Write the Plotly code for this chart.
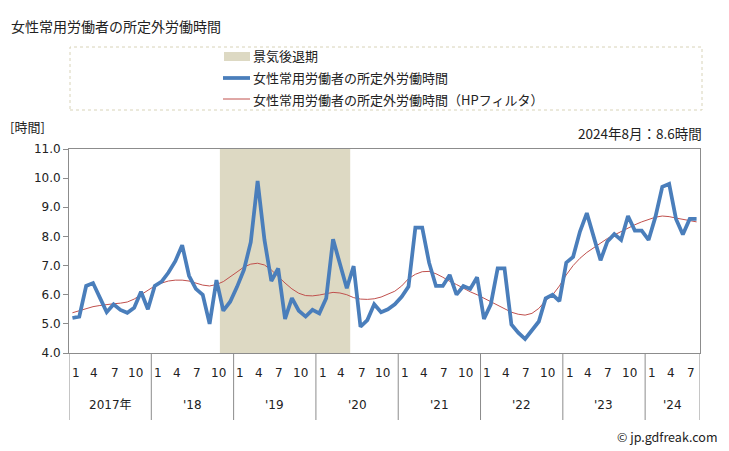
import plotly.graph_objects as go

# ---- data ----
months_per_year = 12
year_labels = ["2017年", "'18", "'19", "'20", "'21", "'22", "'23", "'24"]
month_tick_labels = ["1", "4", "7", "10"]
n_months = 92  # 2017-01 .. 2024-08

overtime = [
    5.2, 5.25, 6.3, 6.4, 5.9, 5.4, 5.67, 5.48, 5.38, 5.55, 6.1, 5.5,
    6.3, 6.45, 6.76, 7.15, 7.7, 6.65, 6.2, 6.0, 5.0, 6.5, 5.45, 5.76,
    6.27, 6.85, 7.8, 9.9, 7.88, 6.47, 6.9, 5.17, 5.88, 5.45, 5.25, 5.48,
    5.36, 5.88, 7.9, 7.02, 6.22, 6.98, 4.9, 5.13, 5.67, 5.4, 5.5, 5.67,
    5.93, 6.28, 8.3, 8.3, 7.1, 6.3, 6.3, 6.68, 6.0, 6.3, 6.2, 6.6,
    5.17, 5.67, 6.9, 6.9, 4.98, 4.7, 4.48, 4.78, 5.08, 5.88, 6.0, 5.78,
    7.1, 7.3, 8.17, 8.8, 8.0, 7.18, 7.83, 8.08, 7.88, 8.7, 8.2, 8.2,
    7.88, 8.67, 9.7, 9.8, 8.6, 8.07, 8.6, 8.6,
]
hp_trend = [
    5.38, 5.45, 5.53, 5.59, 5.63, 5.67, 5.69, 5.71, 5.75, 5.85, 6.0, 6.15,
    6.3, 6.4, 6.47, 6.5, 6.5, 6.47, 6.4, 6.33, 6.3, 6.35, 6.45, 6.6,
    6.78, 6.95, 7.05, 7.08, 7.02, 6.85, 6.62, 6.4, 6.2, 6.05, 5.97, 5.96,
    5.99, 6.04, 6.08, 6.06, 6.0, 5.9, 5.85, 5.84, 5.86, 5.92, 6.02, 6.12,
    6.3, 6.55, 6.7, 6.79, 6.8, 6.72, 6.6, 6.46, 6.35, 6.22, 6.1, 6.0,
    5.88, 5.74, 5.62, 5.5, 5.4, 5.33, 5.3, 5.36, 5.53, 5.8, 5.99, 6.3,
    6.68, 7.0, 7.25, 7.45, 7.62, 7.78, 7.93, 8.05, 8.17, 8.28, 8.4, 8.5,
    8.58, 8.66, 8.7, 8.68, 8.63, 8.58, 8.55, 8.5,
]
recession_start = 22  # 2018-11
recession_end = 40    # 2020-05
latest_note = "2024年8月：8.6時間"

title = "女性常用労働者の所定外労働時間"
name_recession = "景気後退期"
name_series = "女性常用労働者の所定外労働時間"
name_hp = "女性常用労働者の所定外労働時間（HPフィルタ）"

FONT = "Noto Sans CJK JP, Meiryo, sans-serif"
NUMFONT = "DejaVu Sans, Noto Sans CJK JP, sans-serif"
BLUE = "#4A7EBB"
RED = "#C0504D"
SHADE = "#DDD9C3"
AXIS = "#8C8C8C"
TXT = "#222222"

# page has an 8px body margin; figure sized so the page is filled
OFF = 8
FW, FH = 729 - OFF, 451 - OFF
PL, PR, PT, PB = 69, 700, 149, 353  # plot area in window pixels
PW, PH = PR - PL, PB - PT


def PX(X):
    return (X - PL) / PW


def PY(Y):
    return 1 - (Y - PT) / PH


x = list(range(n_months))

fig = go.Figure()
fig.add_trace(go.Scatter(x=x, y=hp_trend, mode="lines",
                         line=dict(color=RED, width=1), showlegend=False))
fig.add_trace(go.Scatter(x=x, y=overtime, mode="lines",
                         line=dict(color=BLUE, width=3.75), showlegend=False))

shapes = []
annotations = []

# recession shading
shapes.append(dict(type="rect", xref="x", yref="y domain",
                   x0=recession_start - 0.5, x1=recession_end + 0.5, y0=0, y1=1,
                   fillcolor=SHADE, line=dict(width=0), layer="below"))

# year separators and labels
month_offsets = {"1": 0.5, "4": 0.2, "7": 0.15, "10": 0.25}
n_years = len(year_labels)
for k in range(n_years + 1):
    xb = min(k * months_per_year, n_months) - 0.5
    shapes.append(dict(type="line", xref="x", yref="paper",
                       x0=xb, x1=xb, y0=0, y1=PY(420),
                       line=dict(color=AXIS, width=1)))
for k, lab in enumerate(year_labels):
    s = k * months_per_year
    e = min(s + months_per_year, n_months)
    annotations.append(dict(x=(s + e - 1) / 2, y=PY(405), xref="x", yref="paper",
                            text=lab, showarrow=False, xanchor="center", yanchor="middle",
                            font=dict(size=12, color=TXT, family=NUMFONT)))
    for m in month_tick_labels:
        idx = s + int(m) - 1
        if idx < n_months:
            annotations.append(dict(x=idx + month_offsets[m], y=PY(373), xref="x", yref="paper",
                                    text=m, showarrow=False, xanchor="center", yanchor="middle",
                                    font=dict(size=12, color=TXT, family=NUMFONT)))


def text_at(X, Y, txt, size, anchor="left", family=FONT):
    annotations.append(dict(x=PX(X), y=PY(Y), xref="paper", yref="paper", text=txt,
                            showarrow=False, xanchor=anchor, yanchor="middle",
                            font=dict(size=size, color=TXT, family=family)))


text_at(9, 26, title, 14)
text_at(8, 126, "[時間]", 13)
text_at(704, 133, latest_note, 13.5, "right")
text_at(720, 436, "© jp.gdfreak.com", 12.5, "right")

# legend box
shapes.append(dict(type="rect", xref="paper", yref="paper",
                   x0=PX(70), x1=PX(702), y0=PY(110), y1=PY(47),
                   line=dict(color="#D8D3B8", width=1, dash="dot"),
                   fillcolor="rgba(0,0,0,0)"))
shapes.append(dict(type="rect", xref="paper", yref="paper",
                   x0=PX(224), x1=PX(250), y0=PY(61), y1=PY(52),
                   fillcolor=SHADE, line=dict(width=0)))
shapes.append(dict(type="line", xref="paper", yref="paper",
                   x0=PX(223), x1=PX(250), y0=PY(78), y1=PY(78),
                   line=dict(color=BLUE, width=3.75)))
shapes.append(dict(type="line", xref="paper", yref="paper",
                   x0=PX(223), x1=PX(250), y0=PY(99), y1=PY(99),
                   line=dict(color=RED, width=1)))
for txt, yy in [(name_recession, 55), (name_series, 78), (name_hp, 99)]:
    text_at(251, yy, txt, 13)

fig.update_layout(
    width=FW, height=FH,
    margin=dict(l=PL - OFF, r=FW - (PR - OFF), t=PT - OFF, b=FH - (PB - OFF)),
    paper_bgcolor="white", plot_bgcolor="white",
    showlegend=False,
    xaxis=dict(range=[-0.5, n_months - 0.5], showticklabels=False, ticks="",
               showgrid=False, zeroline=False, showline=True, linecolor=AXIS,
               linewidth=1, mirror=True, fixedrange=True),
    yaxis=dict(range=[4.0, 11.0], dtick=1.0, tick0=4.0, tickformat=".1f",
               showgrid=False, zeroline=False, showline=True, linecolor=AXIS,
               linewidth=1, mirror=True, ticks="outside", ticklen=5,
               tickcolor=AXIS, tickfont=dict(size=12, color=TXT, family=NUMFONT),
               fixedrange=True),
    font=dict(family=FONT),
    shapes=shapes,
    annotations=annotations,
)

fig.write_html("out.html")
